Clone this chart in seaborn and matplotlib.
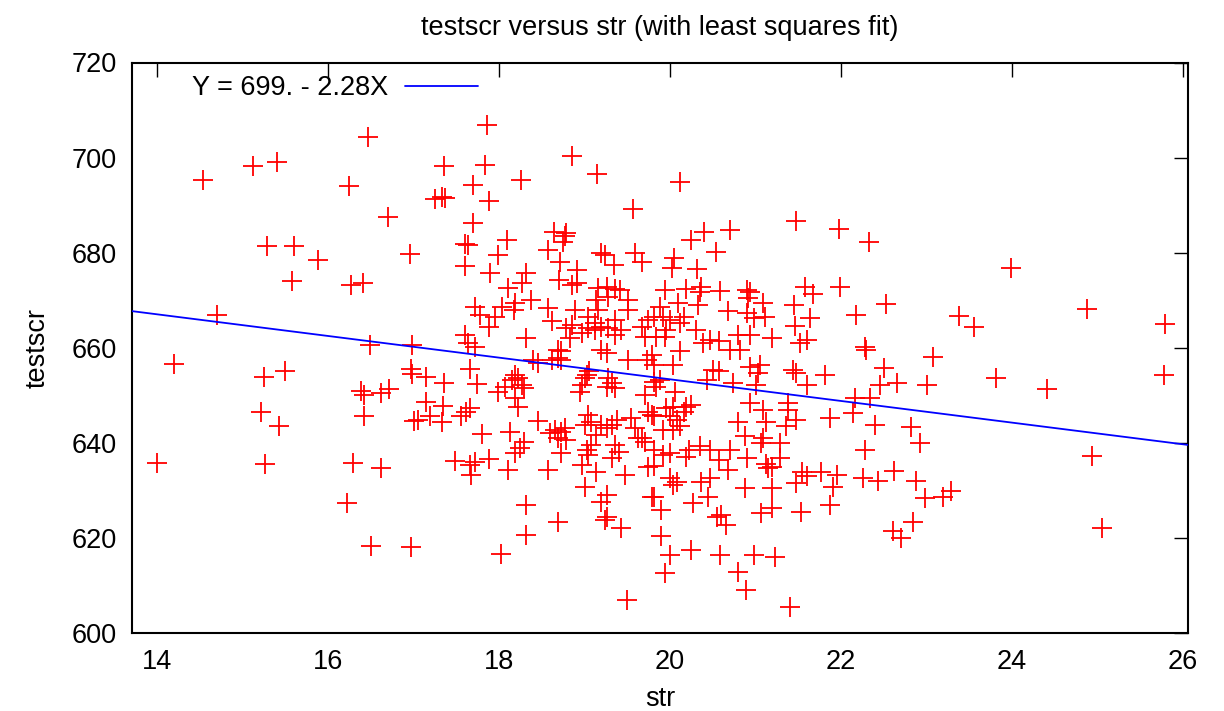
import numpy as np
import pandas as pd
import matplotlib
matplotlib.use("Agg")
import matplotlib.pyplot as plt
import seaborn as sns

# student-teacher ratio (str) and test score (testscr)
str_vals = [
    14.54, 15.13, 15.40, 16.47, 16.25, 16.70, 15.29, 15.60, 15.88, 16.96, 15.58, 16.27, 16.41, 14.70, 16.49, 16.99,
    14.20, 15.25, 15.50, 15.22, 15.43, 14.00, 15.27, 16.30, 16.62, 16.22, 16.51, 16.97, 16.39, 16.42, 16.62, 16.72,
    16.42, 16.97, 16.98, 17.15, 17.01, 17.15,
    17.86, 17.36, 17.84, 18.86, 19.15, 18.26, 17.70, 17.25, 17.33, 17.37, 17.88, 19.57, 17.70, 17.60, 17.64, 18.10,
    17.99, 17.60, 17.90, 18.65, 18.77, 18.75, 18.79, 18.58, 18.72, 18.91, 18.70, 18.85, 18.91, 18.32, 18.27, 18.11,
    18.38, 18.19, 18.18, 18.04, 17.72, 17.78, 17.95, 17.89, 18.58, 18.62, 18.89, 19.20, 19.24, 19.35, 19.59, 19.68,
    19.16, 19.26, 19.36, 19.42, 19.28, 19.51, 19.14, 19.16, 19.04, 19.12, 19.20, 19.28, 19.36, 19.51, 19.67, 19.75,
    18.79, 18.85, 18.83, 17.60, 17.64, 17.72, 18.32, 18.97, 19.04, 19.12, 19.36, 19.43, 19.71,
    17.66, 17.36, 17.74, 17.35, 17.19, 17.06, 17.33, 17.56, 17.62, 17.66, 18.19, 18.23, 18.15, 17.99, 18.07, 18.27,
    18.30, 18.19, 18.23, 18.40, 18.46, 18.69, 18.73, 18.62, 18.69, 18.73, 18.46, 18.66, 18.73, 18.77, 18.60, 18.69,
    18.79, 18.73, 17.80, 18.13, 18.30, 18.25, 18.19, 17.49, 17.66, 17.72, 17.88, 17.68, 18.11, 18.58, 18.32, 18.69,
    18.32, 18.02, 19.50, 18.95, 18.97, 19.03, 19.05, 19.01, 19.28, 19.32, 19.36, 19.26, 19.20, 19.26, 19.51, 19.73,
    19.79, 19.81, 19.71, 19.04, 19.08, 19.01, 19.20, 19.26, 19.32, 19.38, 19.14, 19.08, 19.03, 19.04, 19.36, 19.40,
    19.32, 18.97, 19.14, 19.47, 19.01, 19.26, 19.20, 19.24, 19.26, 19.43, 19.55, 19.59, 19.63, 19.71, 19.67, 19.75,
    19.79, 19.75, 19.79,
    20.12, 20.25, 20.40, 20.70, 20.54, 20.05, 20.02, 20.32, 21.48, 21.98, 22.33, 19.94, 20.19, 20.37, 20.35, 20.59,
    20.90, 20.94, 20.92, 20.10, 20.33, 19.88, 19.81, 19.92, 20.00, 20.12, 20.16, 20.68, 20.90, 21.09, 20.99, 21.11,
    21.58, 21.68, 21.99, 21.45, 21.64, 21.46, 22.18, 22.53, 21.60, 21.52, 22.28, 22.29, 21.19, 19.96, 19.94, 19.84,
    20.31, 20.47, 20.58, 20.70, 20.82, 20.80, 20.94, 20.12, 20.39,
    20.04, 20.51, 20.58, 20.43, 20.74, 20.94, 21.05, 21.03, 21.01, 21.44, 21.48, 21.60, 21.81, 22.50, 22.46, 22.16,
    22.34, 22.14, 21.87, 22.40, 22.28, 22.26, 22.44, 19.81, 19.84, 19.88, 20.06, 19.96, 20.04, 20.19, 20.25, 20.16,
    20.00, 20.08, 19.81, 19.92, 20.04, 20.12, 20.94, 21.09, 21.13, 20.80, 21.38, 21.38, 21.48, 21.36, 20.88, 21.09,
    21.07, 21.29, 19.81, 19.92, 20.00, 20.23, 20.35, 20.47, 20.70, 20.19, 20.58, 20.68, 20.90, 21.13, 21.15, 21.19,
    21.29, 21.54, 21.60, 21.48, 21.77, 21.95, 21.91, 19.81, 20.00, 20.08, 20.04, 20.37, 20.47, 20.88, 21.19, 21.87,
    19.82, 19.90, 20.27, 20.45, 21.07, 21.19, 21.53, 20.55, 20.60, 20.66, 19.90, 20.00, 20.25, 20.59, 20.99, 21.23,
    19.94, 20.80, 20.89, 21.40,
    23.99, 23.38, 23.56, 24.88, 25.79, 23.08, 22.66, 23.01, 23.82, 24.41, 25.78,
    22.82, 22.92, 22.62, 22.88, 22.98, 23.20, 23.29, 22.84, 22.61, 22.70, 24.94, 25.05,
]
testscr_vals = [
    695.2, 698.3, 699.1, 704.4, 694.0, 687.5, 681.3, 681.3, 678.4, 679.6, 674.0, 673.1, 673.5, 666.8, 660.5, 660.5,
    656.5, 653.9, 655.1, 646.5, 643.5, 635.7, 635.5, 635.8, 634.6, 627.2, 618.3, 618.1, 650.8, 650.0, 650.5, 651.2,
    645.6, 655.5, 654.5, 653.9, 644.6, 648.6,
    706.9, 698.3, 698.5, 700.4, 696.6, 695.3, 694.2, 691.2, 691.7, 691.4, 690.9, 689.1, 686.2, 681.8, 681.6, 682.7,
    679.4, 677.1, 675.8, 684.4, 683.4, 682.3, 684.1, 680.6, 678.1, 676.4, 674.2, 673.2, 673.7, 675.7, 673.5, 672.5,
    670.0, 669.3, 667.9, 668.6, 668.6, 666.9, 666.5, 664.4, 668.3, 665.5, 667.9, 679.9, 679.5, 677.4, 679.9, 678.1,
    672.5, 672.8, 672.3, 672.1, 670.7, 670.0, 670.0, 667.9, 666.5, 665.1, 664.4, 664.1, 665.8, 667.9, 664.4, 665.8,
    664.1, 664.8, 662.0, 662.7, 660.9, 660.2, 662.0, 663.0, 664.1, 663.7, 662.7, 663.7, 662.3,
    655.5, 652.5, 652.3, 647.8, 645.7, 644.8, 644.4, 645.5, 646.5, 647.2, 654.3, 653.6, 653.2, 650.7, 651.8, 652.2,
    651.5, 649.3, 647.6, 657.4, 656.7, 657.8, 657.4, 657.4, 659.5, 659.2, 644.6, 642.7, 642.3, 643.0, 642.0, 640.9,
    640.6, 637.8, 641.8, 642.2, 640.2, 638.8, 637.8, 636.2, 635.3, 636.0, 636.6, 633.2, 634.2, 634.2, 626.9, 623.2,
    620.6, 616.5, 606.9, 650.7, 652.2, 654.3, 655.0, 653.6, 653.6, 652.5, 651.4, 651.8, 659.5, 658.8, 657.4, 657.4,
    658.5, 656.4, 650.0, 645.8, 644.4, 643.7, 643.7, 643.0, 643.7, 644.8, 641.6, 639.5, 638.5, 637.4, 639.5, 638.1,
    636.7, 635.3, 633.9, 633.2, 630.7, 629.0, 627.6, 623.7, 624.4, 622.0, 645.1, 643.0, 640.9, 640.2, 640.9, 646.5,
    645.8, 634.9, 628.6,
    694.8, 682.7, 684.4, 684.8, 680.1, 678.8, 676.7, 676.6, 686.7, 684.9, 682.2, 672.1, 672.3, 672.8, 671.8, 672.0,
    672.1, 671.8, 670.4, 669.3, 669.0, 668.6, 666.5, 666.5, 665.8, 665.1, 666.5, 667.6, 667.2, 669.3, 666.2, 666.5,
    672.7, 671.3, 672.7, 669.0, 666.2, 664.6, 666.9, 669.2, 661.6, 660.9, 660.2, 659.5, 662.0, 663.7, 662.3, 662.3,
    663.7, 661.6, 661.3, 659.5, 659.5, 662.7, 662.7, 659.2, 660.9,
    656.4, 655.3, 655.0, 653.2, 652.5, 656.0, 656.4, 654.6, 652.1, 655.3, 654.6, 652.1, 654.3, 655.7, 652.1, 649.3,
    649.3, 646.2, 645.1, 643.7, 638.5, 632.5, 632.0, 652.8, 651.8, 653.2, 650.7, 647.2, 647.6, 647.6, 648.0, 646.5,
    645.5, 644.8, 645.5, 642.7, 642.7, 643.4, 648.3, 646.9, 644.4, 644.4, 648.3, 646.9, 644.8, 643.4, 641.3, 640.9,
    639.9, 639.9, 638.5, 637.4, 637.8, 638.5, 639.2, 638.5, 638.5, 637.0, 636.3, 634.2, 636.7, 635.6, 634.6, 634.9,
    636.7, 633.9, 632.9, 631.4, 633.9, 633.2, 630.7, 635.0, 632.5, 631.8, 631.1, 631.8, 632.5, 630.4, 630.4, 626.9,
    628.6, 625.8, 627.2, 628.6, 625.1, 626.2, 625.5, 624.4, 624.8, 622.7, 620.4, 616.4, 617.4, 616.4, 616.4, 615.9,
    612.6, 612.7, 609.0, 605.5,
    676.8, 666.7, 664.4, 668.1, 665.0, 658.0, 652.5, 652.1, 653.5, 651.2, 654.3,
    643.2, 639.9, 634.1, 632.0, 628.3, 628.6, 629.9, 623.2, 621.5, 619.9, 637.1, 622.1,
]

# least squares fit shown in the key
intercept = 698.93
slope = -2.2798
fit_label = "Y = 699. - 2.28X"

x_ticks = [14, 16, 18, 20, 22, 24, 26]
y_ticks = [600, 620, 640, 660, 680, 700, 720]


def main():
    sns.set_style("white")
    plt.rcParams['font.family'] = ['Liberation Sans', 'DejaVu Sans']
    plt.rcParams['text.color'] = 'black'
    plt.rcParams['axes.labelcolor'] = 'black'

    fig = plt.figure(figsize=(12.24, 7.11), dpi=100)
    ax = fig.add_axes([132 / 1224, 1 - 632.7 / 711, (1188 - 132) / 1224, (632.7 - 62.5) / 711])

    df = pd.DataFrame({'str': str_vals, 'testscr': testscr_vals})
    sns.scatterplot(data=df, x='str', y='testscr', marker='+', s=210, color='red',
                    linewidth=1.3, ax=ax, legend=False, zorder=2)

    ax.set_xlim(13.71, 26.06)
    ax.set_ylim(600, 720)
    xl = np.array(ax.get_xlim())
    sns.lineplot(x=xl, y=intercept + slope * xl, color='blue', linewidth=1.3, ax=ax,
                 label=fit_label, zorder=3)

    fs = 19.5
    ax.set_xticks(x_ticks)
    ax.set_yticks(y_ticks)
    ax.tick_params(direction='in', length=10, width=1.0, top=True, right=True,
                   labelsize=fs, colors='black')
    ax.tick_params(axis='x', pad=12)
    ax.tick_params(axis='y', pad=11)
    for sp in ax.spines.values():
        sp.set_linewidth(1.5)
        sp.set_color('black')

    ax.set_title('testscr versus str (with least squares fit)', fontsize=fs, pad=20,
                 color='black')
    ax.set_xlabel('str', fontsize=fs, labelpad=8)
    ax.set_ylabel('testscr', fontsize=fs, labelpad=15)

    ax.legend(loc='upper left', bbox_to_anchor=(0.057, 0.978), frameon=False,
              markerfirst=False, handlelength=2.7, handletextpad=0.6,
              borderpad=0, borderaxespad=0, fontsize=fs)

    fig.savefig('out.png', dpi=100)


if __name__ == "__main__":
    main()
